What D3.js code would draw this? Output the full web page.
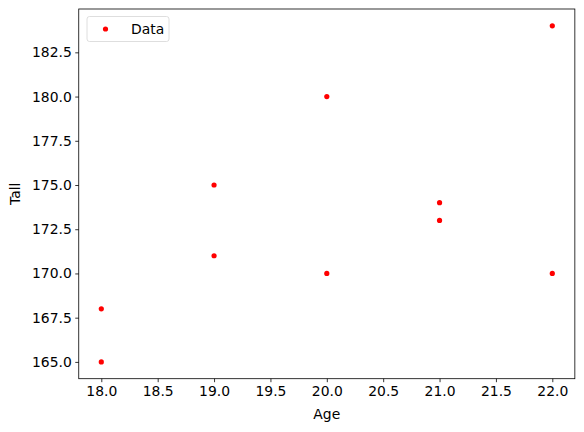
<!DOCTYPE html>
<html>
<head>
<meta charset="utf-8">
<script src="https://cdn.jsdelivr.net/npm/d3@7"></script>
<style>
  body { margin: 0; background: #fff; }
  svg { font-family: "DejaVu Sans", sans-serif; }
</style>
</head>
<body>
<svg id="chart"></svg>
<script>
// data
var ages = [18, 18, 19, 19, 20, 20, 21, 21, 22, 22];
var talls = [165, 168, 171, 175, 170, 180, 173, 174, 170, 184];
var xTicks = [18.0, 18.5, 19.0, 19.5, 20.0, 20.5, 21.0, 21.5, 22.0];
var yTicks = [165.0, 167.5, 170.0, 172.5, 175.0, 177.5, 180.0, 182.5];

var width = 584, height = 432;
var plotL = 78.75, plotR = 574.85, plotT = 9, plotB = 378.7;

var svg = d3.select("#chart").attr("width", width).attr("height", height);

var x = d3.scaleLinear().domain([17.8, 22.2]).range([plotL, plotR]);
var y = d3.scaleLinear().domain([164.05, 184.95]).range([plotB, plotT]);

var fmt = d3.format(".1f");

// axes
var xAxis = svg.append("g")
  .attr("transform", "translate(0," + plotB + ")")
  .call(d3.axisBottom(x).tickValues(xTicks).tickFormat(fmt).tickSizeOuter(0).tickSize(3.5).tickPadding(3.5));
var yAxis = svg.append("g")
  .attr("transform", "translate(" + plotL + ",0)")
  .call(d3.axisLeft(y).tickValues(yTicks).tickFormat(fmt).tickSizeOuter(0).tickSize(3.5).tickPadding(3.5));

[xAxis, yAxis].forEach(function(a) {
  a.select(".domain").remove();
  a.selectAll("text").attr("font-size", 13.9).attr("fill", "#000").attr("font-family", "DejaVu Sans");
  a.selectAll("line").attr("stroke", "#000").attr("stroke-width", 0.8);
});

// frame
svg.append("rect")
  .attr("x", plotL).attr("y", plotT)
  .attr("width", plotR - plotL).attr("height", plotB - plotT)
  .attr("fill", "none").attr("stroke", "#000").attr("stroke-width", 0.8);

// points
svg.append("g").selectAll("circle")
  .data(ages)
  .enter().append("circle")
  .attr("cx", function(d) { return x(d); })
  .attr("cy", function(d, i) { return y(talls[i]); })
  .attr("r", 2.6)
  .attr("fill", "red");

// axis labels
svg.append("text")
  .attr("x", (plotL + plotR) / 2).attr("y", 419)
  .attr("text-anchor", "middle").attr("font-size", 13.9)
  .text("Age");
svg.append("text")
  .attr("transform", "translate(20," + (plotT + plotB) / 2 + ") rotate(-90)")
  .attr("text-anchor", "middle").attr("font-size", 13.9)
  .text("Tall");

// legend
var legend = svg.append("g").attr("class", "legend");
legend.append("rect")
  .attr("x", 87).attr("y", 16.5)
  .attr("width", 82).attr("height", 25)
  .attr("rx", 2.5)
  .attr("fill", "#fff").attr("fill-opacity", 0.8)
  .attr("stroke", "#d6d6d6").attr("stroke-width", 0.8);
legend.append("circle")
  .attr("cx", 105.5).attr("cy", 29)
  .attr("r", 2.6).attr("fill", "red");
legend.append("text")
  .attr("x", 131).attr("y", 34)
  .attr("font-size", 13.9)
  .text("Data");
</script>
</body>
</html>
